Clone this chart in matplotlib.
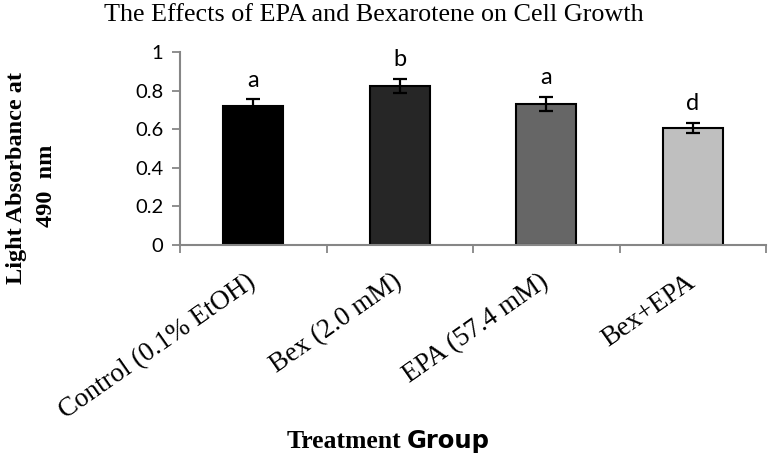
import numpy as np
import matplotlib
matplotlib.use("Agg")
import matplotlib.pyplot as plt

# data
groups = ["Control (0.1% EtOH)", "Bex (2.0 mM)", "EPA (57.4 mM)", "Bex+EPA"]
absorbance = [0.72, 0.825, 0.73, 0.605]
errors = [0.035, 0.035, 0.037, 0.027]
letters = ["a", "b", "a", "d"]
bar_colors = ["#000000", "#262626", "#666666", "#bfbfbf"]
yticks = [0, 0.2, 0.4, 0.6, 0.8, 1]

serif = "Liberation Serif"
sans = "Lato"
spine_gray = "#868686"

fig = plt.figure(figsize=(7.69, 4.58), dpi=100)
ax = fig.add_axes([180 / 769, 1 - 245 / 458, (766 - 180) / 769, (245 - 52) / 458])

x = np.arange(len(groups))
ax.bar(x, absorbance, width=0.41, color=bar_colors, edgecolor="black", linewidth=1.5, zorder=2)
ax.errorbar(x, absorbance, yerr=errors, fmt="none", ecolor="black",
            elinewidth=1.6, capsize=5, capthick=1.6, zorder=3)

# significance letters above the error bars
for xi, v, e, lab in zip(x, absorbance, errors, letters):
    ax.text(xi, v + e + 0.065, lab, ha="center", va="baseline",
            fontsize=17, family=sans)

ax.set_xlim(-0.5, 3.5)
ax.set_ylim(0, 1)
ax.set_yticks(yticks)
ax.set_yticklabels([f"{t:g}" for t in yticks], family=sans, fontsize=14.5)

ax.set_xticks(x)
ax.set_xticklabels(groups, rotation=35, ha="right", va="center",
                   rotation_mode="anchor", family=serif, fontsize=19.5)
ax.set_xticks(np.arange(-0.5, 4, 1), minor=True)
ax.tick_params(axis="x", which="major", length=0, pad=25)
ax.tick_params(axis="x", which="minor", length=6, width=1.3, color=spine_gray)
ax.tick_params(axis="y", length=6, width=1.3, color=spine_gray, pad=6)

for side in ["top", "right"]:
    ax.spines[side].set_visible(False)
for side in ["left", "bottom"]:
    ax.spines[side].set_color(spine_gray)
    ax.spines[side].set_linewidth(1.5)

# title and axis labels
fig.text(374 / 769, 1 - 21 / 458, "The Effects of EPA and Bexarotene on Cell Growth",
         ha="center", va="baseline", family=serif, fontsize=18.8)
fig.text(17 / 769, 1 - 178 / 458, "Light Absorbance at", rotation=90,
         ha="center", va="center", family=serif, fontweight="bold", fontsize=17.5)
fig.text(46 / 769, 1 - 186 / 458, "490  nm", rotation=90,
         ha="center", va="center", family=serif, fontweight="bold", fontsize=17.5)
fig.text(401 / 769, 1 - 448 / 458, "Treatment", ha="right", va="baseline",
         family=serif, fontweight="bold", fontsize=18.5)
fig.text(407 / 769, 1 - 448 / 458, "Group", ha="left", va="baseline",
         family="DejaVu Sans", fontweight="bold", fontsize=17.5)

fig.savefig("out.png", dpi=100)
plt.close(fig)
